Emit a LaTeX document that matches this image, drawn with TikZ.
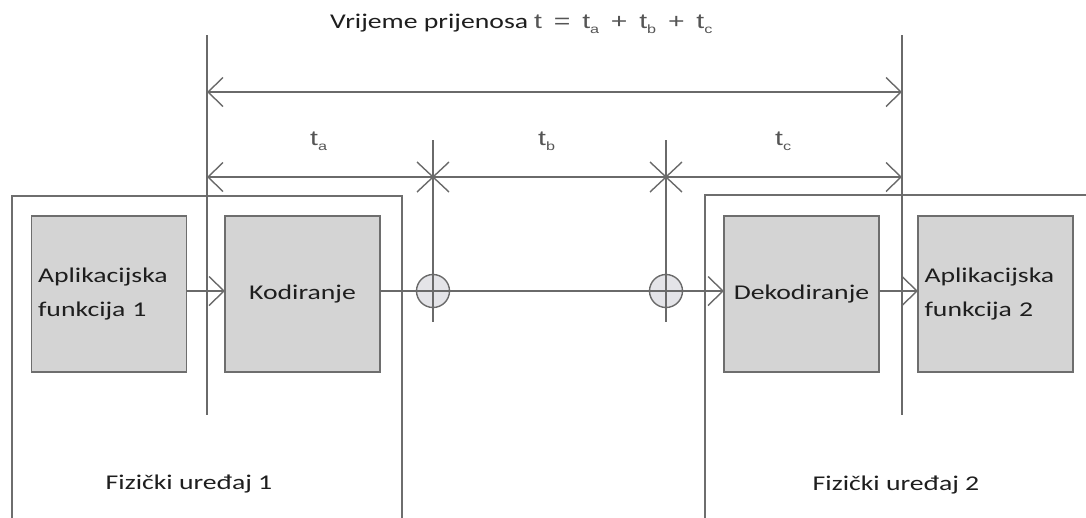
\documentclass[tikz,border=0pt]{standalone}
\usepackage{fontspec}
\setmainfont{Carlito}[FakeStretch=1.32]
\newfontfamily\tfont{Liberation Sans}[FakeStretch=1.35,WordSpace=1.5]
\usetikzlibrary{arrows.meta}
\definecolor{ln}{HTML}{6A6A6A}
\definecolor{bx}{HTML}{D4D4D4}
\definecolor{bd}{HTML}{6E6E6E}
\definecolor{txt}{HTML}{1E1E1E}
\definecolor{tg}{HTML}{555555}
\definecolor{cf}{HTML}{E4E4E8}
\newcommand\tsub[1]{\raisebox{-5pt}{\fontsize{12}{12}\selectfont #1}}
\begin{document}
\begin{tikzpicture}[x=1pt,y=-1pt,
  ln/.style={draw=ln,line width=1.4pt},
  barb/.tip={Straight Barb[length=15pt,width=29pt]},
  arr/.style={ln,-barb},
  devbox/.style={draw=bd,line width=1.5pt,inner sep=0pt,outer sep=0pt},
  fbox/.style={draw=bd,fill=bx,line width=1.6pt,inner sep=0pt,outer sep=0pt,
    minimum width=155pt,minimum height=156pt,text=txt,
    font=\fontsize{21}{34}\selectfont},
  appbox/.style={fbox,align=left,text width=142pt,inner xsep=6pt},
  ring/.style={circle,draw=ln,fill=cf,line width=1.4pt,minimum size=33pt,inner sep=0pt},
  lbl/.style={text=txt,font=\fontsize{21}{25}\selectfont,inner sep=0pt},
  tlbl/.style={text=tg,font=\tfont\fontsize{21}{25}\selectfont,inner sep=0pt}]
\useasboundingbox (0,0) rectangle (1086,517);
\clip (0,0) rectangle (1086,517);
% devices
\node[devbox,minimum width=390pt,minimum height=364pt] (dev1) at (207,378) {};
\node[devbox,minimum width=405pt,minimum height=365pt] (dev2) at (907.5,377.5) {};
\node[lbl] (d1l) at (189,484) {Fizički uređaj 1};
\node[lbl] (d2l) at (896,485) {Fizički uređaj 2};
% function boxes
\node[appbox] (app1) at (109,294) {Aplikacijska\\funkcija 1};
\node[fbox] (kod) at (302.5,294) {Kodiranje};
\node[fbox] (dek) at (801.5,294) {Dekodiranje};
\node[appbox] (app2) at (995.5,294) {Aplikacijska\\funkcija 2};
% coordinates of dimension lines
\coordinate (v1t) at (207,35);
\coordinate (v1b) at (207,415);
\coordinate (v2t) at (902,35);
\coordinate (v2b) at (902,415);
\coordinate (k1t) at (433,140);
\coordinate (k1b) at (433,322);
\coordinate (k2t) at (666,140);
\coordinate (k2b) at (666,322);
\coordinate (k1) at (433,177);
\coordinate (k2) at (666,177);
% rings
\node[ring] (c1) at (433,291) {};
\node[ring] (c2) at (666,291) {};
% vertical lines
\draw[ln] (v1t) -- (v1b);
\draw[ln] (v2t) -- (v2b);
\draw[ln] (k1t) -- (k1b);
\draw[ln] (k2t) -- (k2b);
% dimension arrows
\draw[ln,barb-barb] (v1t |- 0,92) -- (v2t |- 0,92);
\draw[ln,barb-barb] (v1t |- k1) -- (v2t |- k1);
\foreach \k in {k1,k2}{
  \draw[ln] ([shift={(-16,-15)}]\k) -- ([shift={(16,15)}]\k);
  \draw[ln] ([shift={(-16,15)}]\k) -- ([shift={(16,-15)}]\k);
}
% signal path
\draw[arr] (app1.east |- c1) -- (kod.west |- c1);
\draw[arr] (kod.east |- c1) -- (dek.west |- c1);
\draw[arr] (dek.east |- c1) -- (app2.west |- c1);
% labels
\node[anchor=base west,inner sep=0pt,font=\fontsize{21}{25}\selectfont] (title) at (330,28)
  {\textcolor{txt}{Vrijeme prijenosa}\hspace{6pt}{\tfont\color{tg}t = t\tsub{a} + t\tsub{b} + t\tsub{c}}};
\node[tlbl,anchor=base west] (ta) at (310,145) {t\tsub{a}};
\node[tlbl,anchor=base west] (tb) at (538,145) {t\tsub{b}};
\node[tlbl,anchor=base west] (tc) at (775,145) {t\tsub{c}};
\end{tikzpicture}
\end{document}
